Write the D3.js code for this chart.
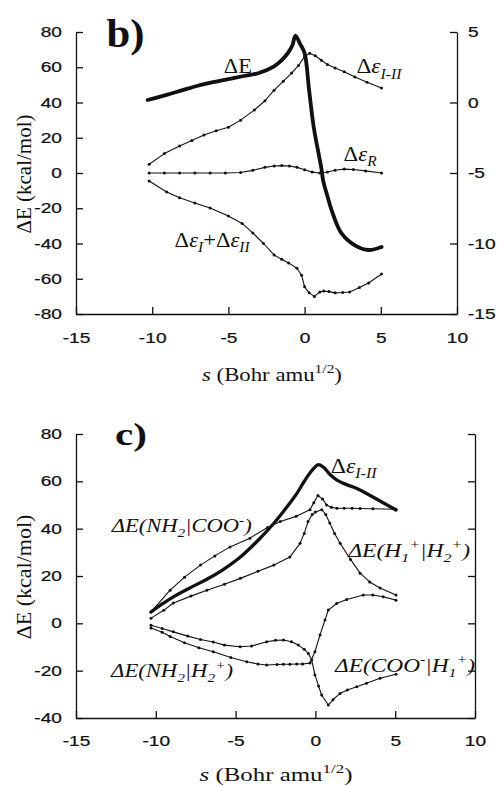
<!DOCTYPE html>
<html><head><meta charset="utf-8">
<script src="https://cdn.jsdelivr.net/npm/d3@7"></script>
<style>body{margin:0;background:#fff}</style>
</head><body><svg id="c" width="498" height="786"></svg>
<script>
// ---------------- data ----------------
const xTicks = [-15, -10, -5, 0, 5, 10];
const topLeftTicks = [-80, -60, -40, -20, 0, 20, 40, 60, 80];
const topRightTicks = [-15, -10, -5, 0, 5];
const botTicks = [-40, -20, 0, 20, 40, 60, 80];

// panel b) — ΔE on the right-hand axis, Δε curves on the left axis (kcal/mol)
const bDeltaE = [[-10.3,0.18],[-9,0.56],[-8,0.88],[-7,1.19],[-6,1.44],[-5,1.66],[-4,1.88],[-3,2.09],[-2,2.56],[-1.5,3.0],[-1.1,3.5],[-0.8,4.06],[-0.6,4.75],[-0.3,4.16],[0,3.5],[0.3,0.83],[0.6,-1.75],[1.12,-4.79],[1.21,-5.5],[1.57,-6.91],[1.77,-7.63],[2.4,-9.25],[3.3,-10.13],[4.2,-10.46],[5.05,-10.25]];
const bEpsI_II = [[-10.2,5],[-9.2,11],[-8.2,15.3],[-7.4,18.5],[-6.6,21.6],[-5.8,24],[-5,26],[-4.2,30],[-3.3,35.7],[-2.6,41],[-2,47],[-1.4,52],[-0.85,56.7],[-0.4,61],[0,66],[0.33,68],[0.7,66.5],[1.1,64],[1.5,61.5],[2,59.6],[2.6,57.5],[3.3,54.5],[4.1,51.5],[5.05,48.2]];
const bEpsR = [[-10.2,0],[-9.2,0],[-8.2,0],[-7.2,0],[-6.2,0],[-5.2,0],[-4.2,0.3],[-3.4,1.5],[-2.6,3.2],[-2,4],[-1.5,4.2],[-1,4],[-0.5,3.2],[0,1.8],[0.5,0.5],[1,0],[1.5,0.6],[2,1.6],[2.6,2.2],[3.2,2],[4,1.2],[5.05,0]];
const bEpsIplusII = [[-10.2,-4.5],[-9.05,-10.8],[-8.2,-14],[-7.2,-17],[-6.2,-19.9],[-5,-24.4],[-4.1,-28.6],[-3.4,-34],[-2.7,-40],[-2,-46.5],[-1.5,-49],[-1.05,-51],[-0.5,-54],[-0.2,-58],[0,-64.6],[0.3,-68],[0.64,-70],[1.0,-67.5],[1.25,-67],[1.6,-67.3],[2,-68],[2.5,-67.8],[2.95,-67.5],[3.6,-65],[4.2,-62.4],[5.05,-57.3]];

// panel c) (kcal/mol)
const cEpsI_II = [[-10.3,4.8],[-9.5,8.6],[-8.9,11.2],[-7.8,15.2],[-6.8,18.6],[-5.8,22.6],[-4.7,28],[-3.6,35],[-2.6,42.3],[-1.8,49],[-1.15,55],[-0.7,60],[-0.34,63.5],[0.16,67],[0.5,66],[0.9,63],[1.35,60.5],[2,58.5],[2.6,57],[3.6,53.4],[5.05,47.9]];
const cNH2_COO = [[-10.3,4.8],[-9.1,14],[-8.2,19.5],[-7.2,24.6],[-6.3,28.5],[-5.35,32.3],[-4.1,36],[-3.0,40.5],[-2.2,43],[-1.2,45.2],[-0.34,48],[-0.1,51],[0.16,54],[0.45,52.5],[0.7,50],[1.0,49],[1.35,48.6],[1.8,48.6],[2.3,48.6],[2.8,48.5],[3.6,48.4],[5.05,48.2]];
const cH1_H2 = [[-10.3,2.2],[-9.5,5.5],[-8.9,8.6],[-7.8,11.5],[-6.8,14],[-5.7,16.5],[-4.7,19],[-3.6,22],[-2.6,24.6],[-1.6,28],[-0.96,33.8],[-0.7,38],[-0.46,43],[-0.2,46],[0,47],[0.4,48],[0.65,46],[0.9,42.4],[1.2,38],[1.55,33.8],[2.2,27],[2.8,21.2],[3.4,17.5],[4.05,14.9],[5.05,12]];
const cCOO_H1 = [[-10.3,-0.8],[-9.6,-2.2],[-8.9,-3.6],[-8.0,-5.4],[-7.2,-6.8],[-6.4,-7.9],[-5.7,-9.2],[-4.72,-9.9],[-4.0,-9.6],[-3.05,-7.8],[-2.5,-7.2],[-2.0,-7.05],[-1.5,-7.8],[-1.07,-9.2],[-0.7,-11],[-0.44,-12.7],[-0.23,-15.5],[-0.03,-21.8],[0.2,-26.5],[0.39,-30.3],[0.81,-34.5],[1.1,-32.3],[1.54,-29.6],[2.0,-28.2],[2.59,-26.8],[3.2,-25.3],[4.05,-23.2],[5.05,-21.5]];
const cNH2_H2 = [[-10.3,-2],[-9.6,-3.8],[-9.1,-5.6],[-8.2,-8.2],[-7.3,-10.3],[-6.4,-12],[-5.3,-14.4],[-4.3,-16.2],[-3.6,-17.2],[-3.05,-17.6],[-2.4,-17.4],[-2.0,-17.3],[-1.6,-17.3],[-1.17,-17.2],[-0.8,-17.2],[-0.34,-16.8],[-0.03,-12],[0.29,-4.9],[0.6,1.4],[0.81,5.6],[1.33,8.4],[1.96,10.1],[3.0,12],[3.6,12],[4.25,11.2],[5.05,9.8]];

// ---------------- drawing ----------------
const SANS = "'Liberation Sans', Arial, Helvetica, sans-serif";
const SERIF = "'Liberation Serif', 'Times New Roman', Times, serif";
const INK = "#111";
const svg = d3.select("#c");

const xT = d3.scaleLinear().domain([-15, 10]).range([76, 457]);
const yTL = d3.scaleLinear().domain([-80, 80]).range([314, 32]);
const yTR = d3.scaleLinear().domain([-15, 5]).range([314, 32]);
const xB = d3.scaleLinear().domain([-15, 10]).range([76, 475]);
const yB = d3.scaleLinear().domain([-40, 80]).range([718, 434]);

const fmt = d => String(d);
function styleAxis(g, labelScale) {
  g.selectAll("path.domain").attr("stroke", INK).attr("stroke-width", 1.3);
  g.selectAll(".tick line").attr("stroke", INK).attr("stroke-width", 1.3);
  g.selectAll(".tick text").each(function () {
    const t = d3.select(this);
    const x = +t.attr("x") || 0, y = +t.attr("y") || 0;
    t.attr("x", 0).attr("y", 0)
      .attr("transform", `translate(${x},${y}) scale(${labelScale},1)`)
      .attr("font-family", SANS).attr("font-size", 14.5).attr("fill", INK)
      .attr("stroke", INK).attr("stroke-width", 0.25);
  });
  g.attr("font-family", null).attr("font-size", null);
}

function drawAxes(x, yL, yR, bottomY, leftTicks, rightTicks, rightLabels, padX) {
  styleAxis(svg.append("g").attr("transform", `translate(0,${bottomY})`)
    .call(d3.axisBottom(x).tickValues(xTicks).tickFormat(fmt).tickSizeInner(-7).tickSizeOuter(0).tickPadding(padX)), 1.32);
  styleAxis(svg.append("g").attr("transform", `translate(${x.range()[0]},0)`)
    .call(d3.axisLeft(yL).tickValues(leftTicks).tickFormat(fmt).tickSizeInner(-7).tickSizeOuter(0).tickPadding(14)), 1.32);
  styleAxis(svg.append("g").attr("transform", `translate(${x.range()[1]},0)`)
    .call(d3.axisRight(yR).tickValues(rightTicks).tickFormat(rightLabels ? fmt : () => "").tickSizeInner(-7).tickSizeOuter(0).tickPadding(11)), 1.32);
}

drawAxes(xT, yTL, yTR, 314, topLeftTicks, topRightTicks, true, 19);
drawAxes(xB, yB, yB, 718, botTicks, botTicks, false, 18);

function series(data, x, y, thick) {
  const line = d3.line().x(d => x(d[0])).y(d => y(d[1]))
    .curve(thick ? d3.curveCatmullRom.alpha(0.5) : d3.curveLinear);
  svg.append("path").datum(data).attr("d", line).attr("fill", "none")
    .attr("stroke", INK).attr("stroke-width", thick ? thick : 1.1)
    .attr("stroke-linejoin", "round").attr("stroke-linecap", "round");
  if (!thick) {
    svg.append("g").selectAll("circle").data(data).join("circle")
      .attr("cx", d => x(d[0])).attr("cy", d => y(d[1])).attr("r", 1.5).attr("fill", INK);
  }
}

series(bEpsI_II, xT, yTL);
series(bEpsR, xT, yTL);
series(bEpsIplusII, xT, yTL);
series(bDeltaE, xT, yTR, 3.8);

series(cNH2_COO, xB, yB);
series(cH1_H2, xB, yB);
series(cCOO_H1, xB, yB);
series(cNH2_H2, xB, yB);
series(cEpsI_II, xB, yB, 3.3);

// text helper: parts = [text, kind('', 'sub', 'sup'), italic]
function label(px, py, parts, o) {
  const g = svg.append("g");
  const t = g.append("text").attr("font-family", o.family || SERIF).attr("font-size", o.size)
    .attr("font-weight", o.weight || "normal").attr("text-anchor", o.anchor || "start").attr("fill", INK);
  let cur = 0;
  parts.forEach(p => {
    const [txt, kind = "", it = false] = p;
    const fs = kind ? o.size * 0.68 : o.size;
    const off = kind === "sub" ? o.size * 0.28 : kind === "sup" ? -o.size * 0.42 : 0;
    t.append("tspan").attr("dy", off - cur).attr("font-size", fs)
      .attr("font-style", it ? "italic" : "normal").text(txt);
    cur = off;
  });
  let sx = 1;
  if (o.width) sx = o.width / t.node().getComputedTextLength();
  g.attr("transform", `translate(${px},${py})${o.rot ? ` rotate(${o.rot})` : ""} scale(${sx},1)`);
}

// panel letters
label(xT(-13), yTL(71.5), [["b)"]], { size: 40, weight: "bold", width: 38 });
label(xB(-12.56), yB(75.3), [["c)"]], { size: 31, weight: "bold", width: 32 });

// axis titles
const xTitle = [["s", "", true], [" (Bohr amu"], ["1/2", "sup"], [")"]];
label(272, 381, xTitle, { size: 18, anchor: "middle", width: 140 });
label(276, 781, xTitle, { size: 19, anchor: "middle", width: 153 });
label(31, 174, [["ΔE (kcal/mol)"]], { size: 21, anchor: "middle", rot: -90 });
label(31, 577, [["ΔE (kcal/mol)"]], { size: 22, anchor: "middle", rot: -90 });

// curve labels, panel b
label(xT(-5.3), yTL(56.7), [["ΔE"]], { size: 21, width: 28 });
label(xT(3.4), yTL(56.7), [["Δ"], ["ε", "", true], ["I-II", "sub", true]], { size: 20, width: 45 });
label(xT(2.56), yTL(7), [["Δ"], ["ε", "", true], ["R", "sub", true]], { size: 20, width: 33 });
label(xT(-8.53), yTL(-41.8), [["Δ"], ["ε", "", true], ["I", "sub", true], ["+"], ["Δ"], ["ε", "", true], ["II", "sub", true]], { size: 20, width: 75 });

// curve labels, panel c
label(xB(0.96), yB(63.6), [["Δ"], ["ε", "", true], ["I-II", "sub", true]], { size: 20, width: 46 });
label(xB(-12.76), yB(38.4), [["ΔE(NH", "", true], ["2", "sub", true], ["|COO", "", true], ["-", "sup", true], [")", "", true]], { size: 18, width: 140 });
label(xB(2.06), yB(28.1), [["ΔE(H", "", true], ["1", "sub", true], ["+", "sup", true], ["|H", "", true], ["2", "sub", true], ["+", "sup", true], [")", "", true]], { size: 18, width: 122 });
label(xB(-12.8), yB(-22.8), [["ΔE(NH", "", true], ["2", "sub", true], ["|H", "", true], ["2", "sub", true], ["+", "sup", true], [")", "", true]], { size: 18, width: 122 });
label(xB(1.23), yB(-20.4), [["ΔE(COO", "", true], ["-", "sup", true], ["|H", "", true], ["1", "sub", true], ["+", "sup", true], [")", "", true]], { size: 18, width: 140 });
</script>
</body></html>
